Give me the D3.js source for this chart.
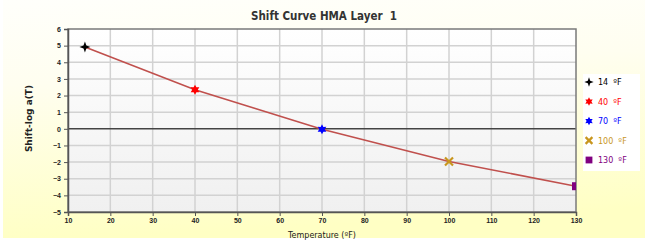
<!DOCTYPE html>
<html>
<head>
<meta charset="utf-8">
<script src="https://cdn.jsdelivr.net/npm/d3@7"></script>
<style>
  body { margin: 0; background: #fff; }
  svg { display: block; font-family: "DejaVu Sans", Verdana, sans-serif; }
  text { white-space: pre; }
</style>
</head>
<body>
<div class="main"></div>
<script>
// data
var temps = [14, 40, 70, 100, 130];
var shifts = [4.92, 2.35, -0.03, -1.97, -3.45];
var labels = ["14  \u00baF", "40  \u00baF", "70  \u00baF", "100  \u00baF", "130  \u00baF"];
var colors = ["#000000", "#ff0000", "#0000ff", "#c8961e", "#800080"];
var symbols = ["star4", "star6", "star6", "x", "square"];
var xTicks = [10, 20, 30, 40, 50, 60, 70, 80, 90, 100, 110, 120, 130];
var yTicks = [-5, -4, -3, -2, -1, 0, 1, 2, 3, 4, 5, 6];

var fullwidth = 645, fullheight = 241;
var margin = { top: 29, right: 69, bottom: 29, left: 68 };
var width = fullwidth - margin.left - margin.right;
var height = fullheight - margin.top - margin.bottom;

var root = d3.select(".main").append("svg")
  .attr("width", fullwidth)
  .attr("height", fullheight);

// background gradients
var defs = root.append("defs");
var bg = defs.append("linearGradient").attr("id", "bg")
  .attr("x1", 0).attr("y1", 0).attr("x2", 0.15).attr("y2", 1);
bg.append("stop").attr("offset", "0%").attr("stop-color", "#fffffb");
bg.append("stop").attr("offset", "35%").attr("stop-color", "#fffef0");
bg.append("stop").attr("offset", "100%").attr("stop-color", "#ffffc4");
var pg = defs.append("linearGradient").attr("id", "pg")
  .attr("x1", 0).attr("y1", 0).attr("x2", 0).attr("y2", 1);
pg.append("stop").attr("offset", "0%").attr("stop-color", "#ffffff");
pg.append("stop").attr("offset", "100%").attr("stop-color", "#f0f0f0");
defs.append("clipPath").attr("id", "clip")
  .append("rect").attr("width", width).attr("height", height);

root.append("rect")
  .attr("x", 3).attr("y", 0)
  .attr("width", fullwidth - 3).attr("height", 238)
  .attr("fill", "url(#bg)");

// title
root.append("text")
  .attr("x", 324).attr("y", 20)
  .attr("text-anchor", "middle")
  .style("font-family", "'DejaVu Sans Condensed', 'DejaVu Sans', sans-serif")
  .style("font-size", "11.5px").style("font-weight", "bold")
  .attr("fill", "#333")
  .text("Shift Curve HMA Layer  1");

var svg = root.append("g")
  .attr("transform", "translate(" + margin.left + "," + margin.top + ")");

// scales
var x = d3.scaleLinear().domain([10, 130]).range([0, width]);
var y = d3.scaleLinear().domain([-5, 6]).range([height, 0]);

svg.append("rect")
  .attr("width", width).attr("height", height)
  .attr("fill", "url(#pg)");

// grid lines
svg.append("g")
  .selectAll("line")
  .data(xTicks.slice(1, -1))
  .join("line")
  .attr("x1", d => x(d)).attr("x2", d => x(d))
  .attr("y1", 0).attr("y2", height)
  .attr("stroke", "#d2d2d2").attr("stroke-width", 1.5);

svg.append("g")
  .selectAll("line")
  .data(yTicks.slice(1, -1).filter(d => d !== 0))
  .join("line")
  .attr("y1", d => y(d)).attr("y2", d => y(d))
  .attr("x1", 0).attr("x2", width)
  .attr("stroke", "#d2d2d2").attr("stroke-width", 1.5);

// zero line
svg.append("line")
  .attr("x1", 0).attr("x2", width)
  .attr("y1", y(0)).attr("y2", y(0))
  .attr("stroke", "#444").attr("stroke-width", 1.5);

// frame
svg.append("rect")
  .attr("width", width).attr("height", height)
  .attr("fill", "none").attr("stroke", "#7a7a7a").attr("stroke-width", 1.5);

// axes
var xAxis = svg.append("g")
  .attr("transform", "translate(0," + height + ")")
  .call(d3.axisBottom(x).tickValues(xTicks).tickSize(4).tickPadding(2));
var yAxis = svg.append("g")
  .call(d3.axisLeft(y).tickValues(yTicks).tickSize(4).tickPadding(3));
[xAxis, yAxis].forEach(function(a) {
  a.select(".domain").attr("stroke", "#555").attr("stroke-width", 1.5);
  a.selectAll(".tick line").attr("stroke", "#555");
  a.selectAll("text")
    .style("font-size", "7px").style("font-weight", "bold")
    .attr("fill", "#222");
});

// axis titles
svg.append("text")
  .attr("x", width / 2).attr("y", height + 26)
  .attr("text-anchor", "middle")
  .style("font-size", "8px")
  .attr("fill", "#222")
  .text("Temperature (\u00baF)");

svg.append("text")
  .attr("transform", "translate(-36," + (height / 2 - 2) + ") rotate(-90)")
  .attr("text-anchor", "middle")
  .style("font-size", "9px").style("font-weight", "bold")
  .attr("fill", "#222")
  .text("Shift-log a(T)");

// curve
var plot = svg.append("g").attr("clip-path", "url(#clip)");
plot.append("path")
  .datum(temps)
  .attr("fill", "none")
  .attr("stroke", "#c0504d")
  .attr("stroke-width", 1.6)
  .attr("d", d3.line()
    .x(function(d) { return x(d); })
    .y(function(d, i) { return y(shifts[i]); }));

// star polygon path
function starPath(n, r1, r2) {
  var pts = [];
  for (var k = 0; k < n * 2; k++) {
    var a = Math.PI * k / n - Math.PI / 2;
    var r = k % 2 ? r2 : r1;
    pts.push([r * Math.cos(a), r * Math.sin(a)]);
  }
  return "M" + pts.join("L") + "Z";
}

function drawMarker(sel, i, s) {
  var t = symbols[i];
  if (t === "star4") {
    sel.append("path")
      .attr("d", starPath(4, 5.5 * s, 2 * s))
      .attr("fill", colors[i]);
  } else if (t === "star6") {
    sel.append("path")
      .attr("d", starPath(6, 5 * s, 2.8 * s))
      .attr("fill", colors[i]);
  } else if (t === "x") {
    var r = 4 * s;
    sel.append("path")
      .attr("d", "M" + -r + "," + -r + "L" + r + "," + r + "M" + r + "," + -r + "L" + -r + "," + r)
      .attr("stroke", colors[i]).attr("stroke-width", 2.2).attr("fill", "none");
  } else {
    var h = 4 * s;
    sel.append("rect")
      .attr("x", -h).attr("y", -h).attr("width", 2 * h).attr("height", 2 * h)
      .attr("fill", colors[i]);
  }
}

temps.forEach(function(t, i) {
  var g = plot.append("g")
    .attr("transform", "translate(" + x(t) + "," + y(shifts[i]) + ")");
  drawMarker(g, i, 1);
});

// legend
var legend = root.append("g").attr("transform", "translate(583,74)");
legend.append("rect")
  .attr("width", 57).attr("height", 97)
  .attr("fill", "#fff");
labels.forEach(function(lab, i) {
  var row = legend.append("g")
    .attr("transform", "translate(6," + (8 + i * 19.5) + ")");
  drawMarker(row, i, 0.85);
  row.append("text")
    .attr("x", 9).attr("y", 3)
    .style("font-size", "8px")
    .attr("fill", colors[i])
    .text(lab);
});
</script>
</body>
</html>
